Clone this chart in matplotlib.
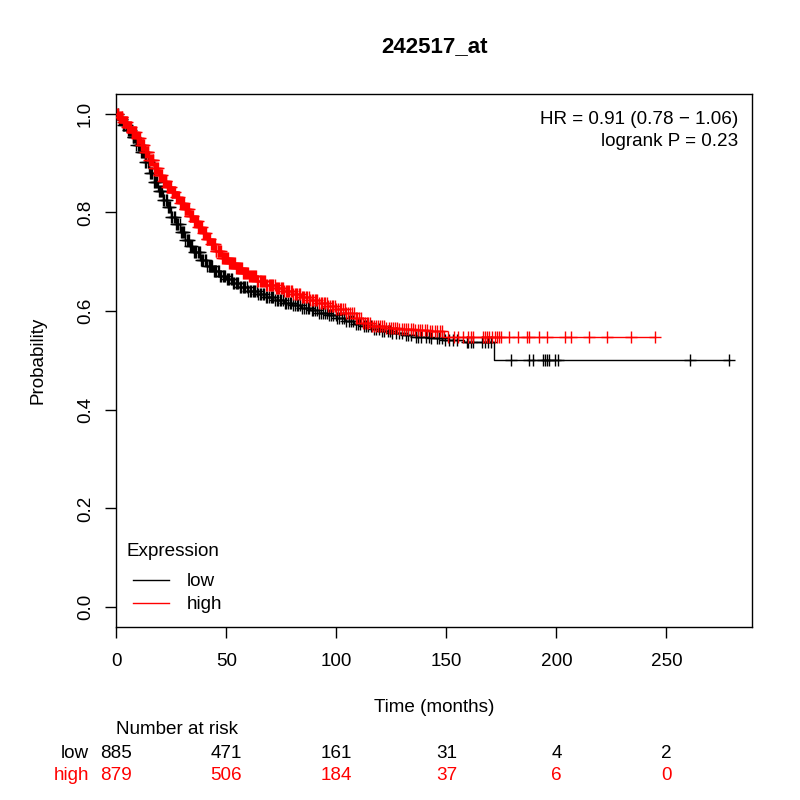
import numpy as np
import matplotlib
matplotlib.use("Agg")
import matplotlib.pyplot as plt
from matplotlib.lines import Line2D
from matplotlib.transforms import blended_transform_factory

plt.rcParams["font.family"] = ["Liberation Sans", "DejaVu Sans"]

TITLE = "242517_at"
GROUPS = ["low", "high"]
COLORS = {"low": "black", "high": "red"}
FS = 13.6

# KM step breakpoints (months, survival)
low_t = [0, 1, 3, 5, 7, 9, 11, 13, 15, 17, 19, 21, 23, 25, 27, 29, 31, 33, 35, 38,
         41, 44, 47, 50, 53, 56, 60, 64, 68, 72, 76, 80, 84, 88, 92, 96, 100, 104,
         108, 112, 116, 120, 125, 130, 136, 142, 148, 158, 171.8]
low_s = [1.0, 0.99, 0.978, 0.966, 0.952, 0.937, 0.922, 0.902, 0.88, 0.862, 0.843,
         0.826, 0.81, 0.79, 0.777, 0.761, 0.745, 0.732, 0.72, 0.704, 0.692, 0.681,
         0.672, 0.664, 0.656, 0.649, 0.641, 0.634, 0.628, 0.622, 0.617, 0.612,
         0.607, 0.602, 0.596, 0.591, 0.585, 0.579, 0.574, 0.569, 0.564, 0.56,
         0.555, 0.551, 0.548, 0.545, 0.541, 0.538, 0.501]

high_t = [0, 1, 3, 5, 7, 9, 11, 13, 15, 17, 19, 21, 23, 25, 27, 29, 31, 33, 35, 37,
          39, 41, 43, 45, 48, 51, 54, 57, 60, 64, 68, 72, 76, 80, 84, 88, 92, 96,
          100, 104, 108, 112, 116, 122, 128, 135, 142, 148.7]
high_s = [1.0, 0.993, 0.984, 0.974, 0.962, 0.95, 0.937, 0.922, 0.906, 0.89, 0.876,
          0.864, 0.852, 0.842, 0.832, 0.82, 0.806, 0.793, 0.782, 0.771, 0.759,
          0.747, 0.735, 0.722, 0.708, 0.697, 0.687, 0.677, 0.67, 0.661, 0.653,
          0.646, 0.64, 0.634, 0.628, 0.623, 0.617, 0.611, 0.605, 0.596, 0.586,
          0.576, 0.569, 0.566, 0.564, 0.562, 0.56, 0.547]

# censoring times (months), estimated from the tick marks
low_cens = [0.6, 1.2, 1.7, 2.1, 2.8, 3.2, 3.6, 4.3, 4.8, 5.2, 5.8, 6.4, 6.9, 7.4,
            7.8, 8.2, 8.7, 9.1, 9.7, 10.2, 10.6, 11.2, 11.7, 12.2, 12.7, 13.2, 13.7,
            14.4, 14.9, 15.3, 15.9, 16.4, 17.0, 17.6, 18.0, 18.5, 19.2, 19.7, 20.2,
            20.7, 21.3, 21.8, 22.4, 22.9, 23.3, 24.0, 24.5, 25.0, 25.5, 26.1, 26.6,
            27.2, 27.7, 28.1, 28.8, 29.3, 29.8, 30.3, 30.9, 31.4, 32.0, 32.4, 32.9,
            33.6, 34.1, 34.6, 35.2, 35.8, 36.3, 36.9, 37.4, 37.9, 38.6, 39.1, 39.6,
            40.3, 40.8, 41.3, 42.0, 42.5, 43.1, 43.7, 44.2, 44.8, 45.5, 46.0, 46.5,
            47.2, 47.7, 48.3, 48.9, 49.5, 50.1, 50.8, 51.3, 51.9, 52.6, 53.1, 53.7,
            54.4, 55.0, 55.5, 56.3, 56.8, 57.4, 58.1, 58.7, 59.3, 60.0, 60.6, 61.2,
            61.9, 62.5, 63.1, 63.9, 64.5, 65.1, 65.9, 66.5, 67.1, 68.0, 68.6, 69.2,
            70.1, 70.7, 71.3, 72.2, 72.9, 73.5, 74.4, 75.0, 75.7, 76.6, 77.3, 78.0,
            78.9, 79.6, 80.3, 81.3, 82.0, 82.7, 83.7, 84.4, 85.1, 86.2, 86.9, 87.6,
            88.7, 89.4, 90.2, 91.3, 92.1, 92.9, 94.0, 94.8, 95.6, 96.8, 97.6, 98.4,
            99.7, 100.5, 101.4, 102.7, 103.6, 104.4, 105.8, 106.7, 107.6, 109.0,
            110.0, 110.9, 112.4, 113.3, 114.3, 115.9, 116.9, 117.9, 119.5, 120.6,
            121.6, 123.3, 124.4, 125.5, 127.3, 128.5, 129.6, 131.5, 132.7, 133.9,
            136.1, 137.2, 138.4, 140.7, 141.9, 143.1, 145.5, 146.6, 147.8, 149.4,
            151.2, 153.2, 155.0, 159.2, 160.0, 161.0, 161.9, 166.0, 167.6, 169.1,
            170.2, 179.5, 187.7, 189.5, 193.8, 194.7, 195.6, 196.5, 199.5, 200.5,
            260.8, 278.5]
high_cens = [0.4, 0.8, 1.2, 1.6, 2.0, 2.4, 2.8, 3.1, 3.5, 3.9, 4.3, 4.7, 5.0, 5.4,
             5.8, 6.2, 6.6, 7.0, 7.3, 7.7, 8.1, 8.5, 8.9, 9.3, 9.6, 10.0, 10.4, 10.8,
             11.2, 11.6, 12.0, 12.3, 12.7, 13.1, 13.5, 13.9, 14.3, 14.6, 15.0, 15.4,
             15.8, 16.2, 16.6, 16.9, 17.3, 17.7, 18.1, 18.5, 18.9, 19.3, 19.6, 20.0,
             20.4, 20.8, 21.2, 21.6, 22.0, 22.4, 22.7, 23.1, 23.5, 23.9, 24.3, 24.7,
             25.1, 25.5, 25.9, 26.3, 26.6, 27.0, 27.4, 27.8, 28.2, 28.6, 29.0, 29.4,
             29.8, 30.2, 30.6, 31.0, 31.3, 31.7, 32.1, 32.5, 32.9, 33.3, 33.7, 34.1,
             34.5, 34.9, 35.3, 35.7, 36.1, 36.5, 36.9, 37.3, 37.7, 38.1, 38.5, 38.9,
             39.3, 39.7, 40.2, 40.6, 41.0, 41.4, 41.8, 42.2, 42.6, 43.0, 43.5, 43.9,
             44.3, 44.7, 45.1, 45.5, 46.0, 46.4, 46.8, 47.2, 47.7, 48.1, 48.5, 48.9,
             49.4, 49.8, 50.2, 50.7, 51.1, 51.5, 52.0, 52.4, 52.9, 53.3, 53.8, 54.2,
             54.7, 55.1, 55.6, 56.0, 56.5, 56.9, 57.4, 57.8, 58.3, 58.8, 59.2, 59.7,
             60.2, 60.7, 61.1, 61.6, 62.1, 62.6, 63.1, 63.6, 64.1, 64.6, 65.1, 65.6,
             66.1, 66.6, 67.1, 67.6, 68.2, 68.7, 69.2, 69.7, 70.3, 70.8, 71.4, 71.9,
             72.5, 73.0, 73.6, 74.1, 74.7, 75.2, 75.8, 76.4, 77.0, 77.5, 78.1, 78.7,
             79.3, 79.9, 80.5, 81.1, 81.7, 82.3, 83.0, 83.6, 84.2, 84.8, 85.5, 86.1,
             86.8, 87.4, 88.1, 88.7, 89.4, 90.1, 90.8, 91.4, 92.1, 92.8, 93.5, 94.2,
             95.0, 95.6, 96.4, 97.1, 97.8, 98.5, 99.3, 100.0, 100.8, 101.5, 102.3,
             103.1, 103.9, 104.6, 105.4, 106.2, 107.0, 107.8, 108.7, 109.5, 110.3,
             111.1, 112.0, 112.8, 113.7, 114.6, 115.4, 116.3, 117.2, 118.1, 119.0,
             119.9, 120.9, 121.8, 122.7, 123.7, 124.6, 125.6, 126.6, 127.6, 128.6,
             129.6, 130.6, 131.6, 132.7, 133.7, 134.8, 135.8, 136.9, 138.0, 139.1,
             140.2, 141.3, 142.4, 143.6, 144.7, 145.9, 147.0, 148.1, 150.9, 153.5,
             155.4, 157.7, 160.0, 161.0, 161.9, 166.5, 167.7, 168.6, 169.5, 170.5,
             172.3, 173.2, 174.1, 175.0, 178.6, 182.7, 186.5, 187.7, 192.3, 195.6,
             204.0, 206.5, 214.7, 222.9, 233.8, 245.0]

CURVES = {"low": (low_t, low_s, low_cens), "high": (high_t, high_s, high_cens)}

RISK_TIMES = [0, 50, 100, 150, 200, 250]
RISK = {"low": [885, 471, 161, 31, 4, 2], "high": [879, 506, 184, 37, 6, 0]}

HR_TEXT = "HR = 0.91 (0.78 \u2212 1.06)"
P_TEXT = "logrank P = 0.23"

W = 800.0
fig = plt.figure(figsize=(8, 8), dpi=100)
ax = fig.add_axes([116.3 / W, 1 - 626.7 / W, (752.3 - 116.3) / W, (626.7 - 94) / W])

handles = []
for g in GROUPS:
    t, s, cens = CURVES[g]
    end = max(cens[-1], t[-1])
    tt = list(t) + [end]
    ss = list(s) + [s[-1]]
    ax.step(tt, ss, where="post", color=COLORS[g], lw=1.0, zorder=3)
    idx = np.searchsorted(np.array(t), np.array(cens), side="right") - 1
    ax.plot(cens, np.array(s)[idx], ls="none", marker="+", ms=9, mew=1.0,
            color=COLORS[g], zorder=4)
    handles.append(Line2D([], [], color=COLORS[g], lw=1.0, label=g))

ax.set_xlim(0, 289)
ax.set_ylim(-0.04, 1.04)
ax.set_xticks(RISK_TIMES)
ax.set_xticklabels([str(v) for v in RISK_TIMES], fontsize=FS)
yt = [0.0, 0.2, 0.4, 0.6, 0.8, 1.0]
ax.set_yticks(yt)
ax.set_yticklabels([f"{v:.1f}" for v in yt], fontsize=FS, rotation=90, va="center")
ax.tick_params(direction="out", length=8, width=1, pad=8)
ax.tick_params(axis="x", pad=11)
for sp in ax.spines.values():
    sp.set_linewidth(1)

fig.text(127 / W, 1 - 552 / W, "Expression", ha="left", va="center", fontsize=FS)
ax.legend(handles=handles, loc="upper left", bbox_to_anchor=(133 / W, 1 - 573 / W),
          bbox_transform=fig.transFigure, frameon=False, fontsize=FS,
          handlelength=1.9, handletextpad=0.95, labelspacing=0.3,
          borderpad=0, borderaxespad=0)

fig.text(738 / W, 1 - 119 / W, HR_TEXT, ha="right", va="center", fontsize=FS)
fig.text(738 / W, 1 - 141 / W, P_TEXT, ha="right", va="center", fontsize=FS)

fig.text(434 / W, 1 - 47 / W, TITLE, ha="center", va="center", fontsize=16,
         fontweight="bold")
fig.text(434 / W, 1 - 707 / W, "Time (months)", ha="center", va="center", fontsize=FS)
fig.text(38 / W, 1 - 360 / W, "Probability", ha="center", va="center", fontsize=FS,
         rotation=90)

tr = blended_transform_factory(ax.transData, fig.transFigure)
fig.text(0, 1 - 730 / W, "Number at risk", ha="left", va="center", fontsize=FS,
         transform=tr)
rows = {"low": 753, "high": 776}
for g in GROUPS:
    y = 1 - rows[g] / W
    fig.text(89 / W, y, g, ha="right", va="center", fontsize=FS, color=COLORS[g])
    for tm, n in zip(RISK_TIMES, RISK[g]):
        fig.text(tm, y, str(n), ha="center", va="center", fontsize=FS,
                 color=COLORS[g], transform=tr)

fig.savefig("out.png", dpi=100)
